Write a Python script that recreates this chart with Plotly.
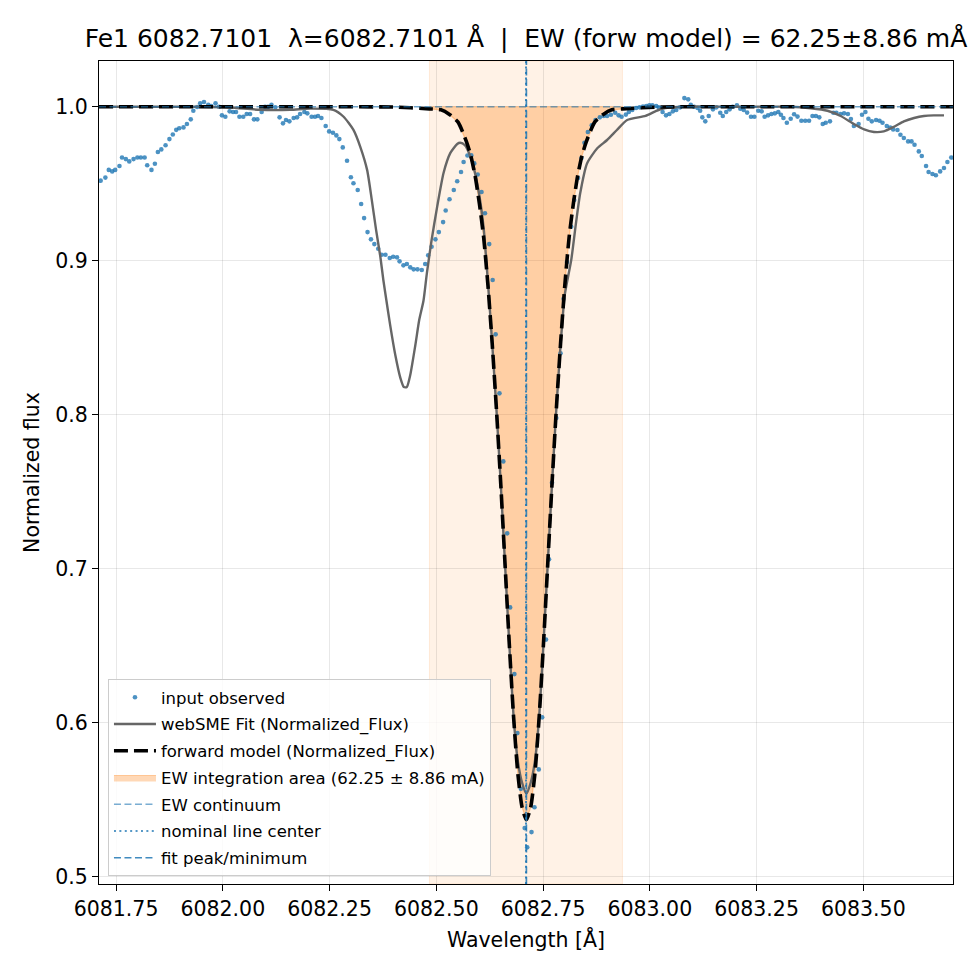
import plotly.graph_objects as go

# ---------------- data ----------------
obs_wl = [
    6081.714, 6081.725, 6081.733, 6081.741, 6081.748, 6081.758, 6081.764, 6081.773, 6081.781, 6081.791,
    6081.800, 6081.808, 6081.817, 6081.823, 6081.833, 6081.841, 6081.848, 6081.856, 6081.866, 6081.875,
    6081.883, 6081.891, 6081.898, 6081.908, 6081.916, 6081.925, 6081.931, 6081.940, 6081.947, 6081.956,
    6081.966, 6081.973, 6081.983, 6081.991, 6081.998, 6082.006, 6082.016, 6082.024, 6082.031, 6082.039,
    6082.048, 6082.056, 6082.064, 6082.073, 6082.081, 6082.091, 6082.099, 6082.106, 6082.114, 6082.123,
    6082.133, 6082.141, 6082.148, 6082.156, 6082.166, 6082.174, 6082.181, 6082.191, 6082.198, 6082.208,
    6082.216, 6082.223, 6082.231, 6082.241, 6082.249, 6082.258, 6082.266, 6082.273, 6082.281, 6082.291,
    6082.300, 6082.306, 6082.316, 6082.324, 6082.331, 6082.339, 6082.347, 6082.355, 6082.364, 6082.372,
    6082.381, 6082.391, 6082.399, 6082.408, 6082.414, 6082.423, 6082.431, 6082.439, 6082.447, 6082.456,
    6082.466, 6082.474, 6082.481, 6082.489, 6082.498, 6082.506, 6082.516, 6082.522, 6082.531, 6082.541,
    6082.549, 6082.558, 6082.564, 6082.573, 6082.582, 6082.589, 6082.597, 6082.606, 6082.614, 6082.624,
    6082.632, 6082.639, 6082.648, 6082.657, 6082.666, 6082.673, 6082.683, 6082.690, 6082.698, 6082.707,
    6082.713, 6082.723, 6082.730, 6082.740, 6082.748, 6082.757, 6082.764, 6082.771, 6082.781, 6082.791,
    6082.798, 6082.806, 6082.816, 6082.823, 6082.832, 6082.840, 6082.847, 6082.855, 6082.864, 6082.873,
    6082.883, 6082.892, 6082.900, 6082.909, 6082.919, 6082.927, 6082.934, 6082.944, 6082.951, 6082.959,
    6082.968, 6082.976, 6082.984, 6082.992, 6082.999, 6083.006, 6083.015, 6083.021, 6083.030, 6083.038,
    6083.046, 6083.054, 6083.062, 6083.071, 6083.081, 6083.090, 6083.096, 6083.104, 6083.112, 6083.118,
    6083.123, 6083.130, 6083.138, 6083.148, 6083.156, 6083.165, 6083.171, 6083.179, 6083.187, 6083.194,
    6083.204, 6083.212, 6083.220, 6083.228, 6083.237, 6083.245, 6083.254, 6083.262, 6083.269, 6083.277,
    6083.285, 6083.293, 6083.301, 6083.307, 6083.313, 6083.321, 6083.330, 6083.338, 6083.346, 6083.355,
    6083.364, 6083.373, 6083.381, 6083.389, 6083.397, 6083.405, 6083.412, 6083.422, 6083.430, 6083.437,
    6083.447, 6083.455, 6083.464, 6083.471, 6083.478, 6083.489, 6083.497, 6083.505, 6083.512, 6083.520,
    6083.530, 6083.538, 6083.545, 6083.555, 6083.563, 6083.570, 6083.580, 6083.587, 6083.595, 6083.605,
    6083.613, 6083.620, 6083.630, 6083.637, 6083.647, 6083.653, 6083.662, 6083.670, 6083.680, 6083.689,
    6083.697, 6083.706,
]
obs_flux = [
    0.952, 0.954, 0.959, 0.958, 0.959, 0.9615, 0.967, 0.966, 0.9645, 0.966,
    0.967, 0.967, 0.967, 0.962, 0.959, 0.963, 0.9706, 0.9723, 0.975, 0.979,
    0.982, 0.985, 0.986, 0.9866, 0.9888, 0.9918, 0.9974, 0.9998, 1.0022, 1.0031,
    1.0013, 1.0005, 1.0022, 1.0, 0.9944, 0.9935, 0.997, 0.9966, 0.9966, 0.9935,
    0.9935, 0.9953, 0.9953, 0.9918, 0.9918, 0.9966, 1.0, 1.0, 1.0013, 0.9996,
    0.9931, 0.9892, 0.9914, 0.9905, 0.9927, 0.9931, 0.9953, 0.9966, 0.9957, 0.9935,
    0.9935, 0.994, 0.9927, 0.9875, 0.984, 0.9831, 0.9814, 0.979, 0.9736, 0.9649,
    0.9542, 0.9503, 0.9459, 0.9368, 0.9277, 0.9186, 0.9139, 0.9108, 0.9078, 0.9039,
    0.9039, 0.9018, 0.9026, 0.9022, 0.8996, 0.897, 0.8979, 0.8957, 0.8944, 0.8944,
    0.894, 0.8979, 0.9035, 0.9091, 0.9139, 0.9186, 0.9251, 0.9326, 0.9399, 0.9459,
    0.9516, 0.9576, 0.9641, 0.9683, 0.9684, 0.9632, 0.956, 0.9446, 0.9308, 0.9108,
    0.8875, 0.8522, 0.8139, 0.7697, 0.723, 0.6749, 0.6316, 0.5933, 0.5571, 0.5316,
    0.5191, 0.529, 0.5451, 0.5697, 0.6035, 0.654, 0.7061, 0.7558, 0.7979, 0.8399,
    0.8753, 0.8992, 0.9221, 0.9394, 0.9537, 0.9667, 0.9766, 0.9836, 0.9879, 0.9914,
    0.9931, 0.994, 0.994, 0.9948, 0.9961, 0.9944, 0.9935, 0.9949, 0.9966, 0.9979,
    0.9992, 0.9996, 1.0001, 1.0005, 1.0009, 1.0009, 1.0005, 0.9996, 0.9966, 0.9944,
    0.9953, 0.997, 0.9979, 0.9996, 1.0056, 1.0048, 1.0013, 1.0, 0.9992, 0.9974,
    0.9931, 0.9905, 0.994, 0.9983, 0.9996, 0.9961, 0.994, 0.9966, 0.9983, 1.0,
    1.0009, 0.9987, 0.9979, 0.9962, 0.9935, 0.9935, 0.9974, 0.997, 0.9935, 0.9944,
    0.9953, 0.9957, 0.9966, 0.9948, 0.9927, 0.9896, 0.9922, 0.9951, 0.9936, 0.9909,
    0.9909, 0.9909, 0.994, 0.994, 0.9931, 0.9888, 0.9896, 0.9905, 0.9961, 0.9961,
    0.9953, 0.9957, 0.9953, 0.992, 0.9875, 0.9888, 0.9948, 0.9966, 0.9922, 0.9905,
    0.9914, 0.9909, 0.9896, 0.9875, 0.9865, 0.9853, 0.9849, 0.9818, 0.9797, 0.9775,
    0.9775, 0.9753, 0.971, 0.968, 0.9615, 0.9576, 0.9563, 0.9555, 0.958, 0.9602,
    0.9641, 0.967,
]

fit_wl = [
    6081.710, 6081.947, 6082.017, 6082.087, 6082.158, 6082.205, 6082.259, 6082.283, 6082.306, 6082.322,
    6082.338, 6082.349, 6082.359, 6082.369, 6082.376, 6082.383, 6082.392, 6082.404, 6082.416, 6082.424,
    6082.431, 6082.439, 6082.451, 6082.460, 6082.470, 6082.478, 6082.489, 6082.502, 6082.517, 6082.533,
    6082.549, 6082.556, 6082.567, 6082.580, 6082.589, 6082.600, 6082.611, 6082.621, 6082.631, 6082.641,
    6082.651, 6082.661, 6082.671, 6082.681, 6082.691, 6082.701, 6082.711, 6082.721, 6082.731, 6082.741,
    6082.751, 6082.761, 6082.771, 6082.781, 6082.791, 6082.801, 6082.816, 6082.826, 6082.837, 6082.853,
    6082.877, 6082.900, 6082.923, 6082.947, 6082.990, 6083.013, 6083.029, 6083.072, 6083.200, 6083.330,
    6083.377, 6083.416, 6083.447, 6083.478, 6083.502, 6083.525, 6083.548, 6083.572, 6083.595, 6083.619,
    6083.642, 6083.665, 6083.689,
]
fit_flux = [
    1.0, 1.0, 0.9995, 0.998, 0.998, 0.9988, 0.998, 0.9935, 0.985, 0.974,
    0.959, 0.9394, 0.920, 0.9026, 0.8875, 0.8745, 0.8582, 0.8388, 0.8238, 0.818,
    0.818, 0.8258, 0.8453, 0.8615, 0.874, 0.892, 0.9134, 0.935, 0.957, 0.970,
    0.9758, 0.9766, 0.975, 0.9675, 0.959, 0.9438, 0.921, 0.886, 0.846, 0.803,
    0.755, 0.703, 0.651, 0.604, 0.575, 0.561, 0.554, 0.561, 0.575, 0.604,
    0.651, 0.703, 0.755, 0.803, 0.845, 0.878, 0.9004, 0.922, 0.9438, 0.9632,
    0.973, 0.9784, 0.9849, 0.9914, 0.994, 0.997, 0.9987, 1.0, 1.0, 1.0,
    0.999, 0.9974, 0.994, 0.9888, 0.9853, 0.9836, 0.984, 0.987, 0.9905, 0.9927,
    0.994, 0.9944, 0.9944,
]

model_wl = [
    6081.710, 6082.200, 6082.400, 6082.484, 6082.511, 6082.531, 6082.551, 6082.571, 6082.581, 6082.591,
    6082.601, 6082.611, 6082.621, 6082.631, 6082.641, 6082.651, 6082.661, 6082.671, 6082.681, 6082.691,
    6082.701, 6082.711, 6082.721, 6082.731, 6082.741, 6082.751, 6082.761, 6082.771, 6082.781, 6082.791,
    6082.801, 6082.811, 6082.821, 6082.831, 6082.841, 6082.851, 6082.871, 6082.891, 6082.911, 6082.936,
    6083.020, 6083.220, 6083.710,
]
model_flux = [
    1.0, 1.0, 0.9998, 0.9986, 0.998, 0.995, 0.990, 0.977, 0.968, 0.955,
    0.937, 0.915, 0.884, 0.846, 0.803, 0.755, 0.703, 0.651, 0.604, 0.567,
    0.545, 0.537, 0.545, 0.567, 0.604, 0.651, 0.703, 0.755, 0.803, 0.846,
    0.884, 0.915, 0.937, 0.955, 0.968, 0.977, 0.990, 0.995, 0.998, 0.9986,
    0.9998, 1.0, 1.0,
]

continuum = 1.0
ew_lo, ew_hi = 6082.484, 6082.936
line_center = 6082.7101
fit_minimum = 6082.711
x_range = [6081.7101, 6083.7101]
y_range = [0.4953, 1.0297]

x_ticks = [6081.75, 6082.00, 6082.25, 6082.50, 6082.75, 6083.00, 6083.25, 6083.50]
y_ticks = [0.5, 0.6, 0.7, 0.8, 0.9, 1.0]

C0 = "#1f77b4"
FONT = "DejaVu Sans"

# ---------------- figure ----------------
fig = go.Figure()

# light EW window band
fig.add_shape(type="rect", xref="x", yref="paper", x0=ew_lo, x1=ew_hi, y0=0, y1=1,
              fillcolor="rgba(255,127,14,0.10)", line=dict(width=1, color="rgba(255,127,14,0.12)"),
              layer="below")

# EW integration fill (between continuum and forward model inside window)
band_x = [w for w in model_wl if ew_lo <= w <= ew_hi]
band_y = [f for w, f in zip(model_wl, model_flux) if ew_lo <= w <= ew_hi]
fig.add_trace(go.Scatter(
    x=band_x + [ew_hi, ew_lo], y=band_y + [continuum, continuum],
    fill="toself", fillcolor="rgba(255,127,14,0.30)",
    line=dict(color="rgba(255,127,14,0.35)", width=1.2), mode="lines",
    name="EW integration area (62.25 ± 8.86 mA)", legendrank=4, legendgroup="g4", hoverinfo="skip"))

fig.add_trace(go.Scatter(
    x=obs_wl, y=obs_flux, mode="markers",
    marker=dict(color="rgba(31,119,180,0.8)", size=4.6, line=dict(width=0)),
    name="input observed", legendrank=1, legendgroup="g1"))

fig.add_trace(go.Scatter(
    x=fit_wl, y=fit_flux, mode="lines", line=dict(color="#666666", width=2.4, shape="spline", smoothing=0.6),
    name="webSME Fit (Normalized_Flux)", legendrank=2, legendgroup="g2"))

fig.add_trace(go.Scatter(
    x=model_wl, y=model_flux, mode="lines",
    line=dict(color="black", width=3.6, dash="14px,6px", shape="spline", smoothing=0.6),
    name="forward model (Normalized_Flux)", legendrank=3, legendgroup="g3"))

fig.add_trace(go.Scatter(
    x=x_range, y=[continuum, continuum], mode="lines",
    line=dict(color="rgba(31,119,180,0.6)", width=1.6, dash="7px,3.5px"),
    name="EW continuum", legendrank=5, legendgroup="g5"))

fig.add_trace(go.Scatter(
    x=[line_center, line_center], y=y_range, mode="lines",
    line=dict(color=C0, width=1.7, dash="2px,3.4px"),
    name="nominal line center", legendrank=6, legendgroup="g6"))

fig.add_trace(go.Scatter(
    x=[fit_minimum, fit_minimum], y=y_range, mode="lines",
    line=dict(color="rgba(31,119,180,0.85)", width=1.7, dash="7px,3.5px"),
    name="fit peak/minimum", legendrank=7, legendgroup="g7"))

axis_common = dict(
    showline=True, linecolor="black", linewidth=1.2, mirror=True,
    ticks="outside", ticklen=6, tickwidth=1.2, tickcolor="black",
    showgrid=True, gridcolor="rgba(0,0,0,0.09)", gridwidth=1.2,
    zeroline=False, tickfont=dict(family=FONT, size=20.5, color="black"),
)

fig.update_xaxes(range=x_range, tickvals=x_ticks, tickformat=".2f",
                 title=dict(text="Wavelength [Å]", font=dict(family=FONT, size=20.5, color="black"), standoff=12),
                 **axis_common)
fig.update_yaxes(range=y_range, tickvals=y_ticks, tickformat=".1f",
                 title=dict(text="Normalized flux", font=dict(family=FONT, size=20.5, color="black"), standoff=10),
                 **axis_common)

fig.update_layout(
    width=975, height=975,
    margin=dict(l=99, r=22, t=61, b=91),
    paper_bgcolor="white", plot_bgcolor="white",
    font=dict(family=FONT, color="black"),
    title=dict(text="Fe1 6082.7101  λ=6082.7101 Å  |  EW (forw model) = 62.25±8.86 mÅ",
               x=0.5 * (99 + 953) / 975, xanchor="center", y=1 - 38 / 975, yanchor="middle",
               font=dict(family=FONT, size=25, color="black")),
    legend=dict(x=0.0105, y=0.0097, xanchor="left", yanchor="bottom",
                bgcolor="rgba(255,255,255,0.8)", bordercolor="#cccccc", borderwidth=1,
                font=dict(family=FONT, size=16.5, color="black"), traceorder="grouped",
                tracegroupgap=2.3, itemwidth=42),
    showlegend=True,
)

fig.write_html("out.html")
